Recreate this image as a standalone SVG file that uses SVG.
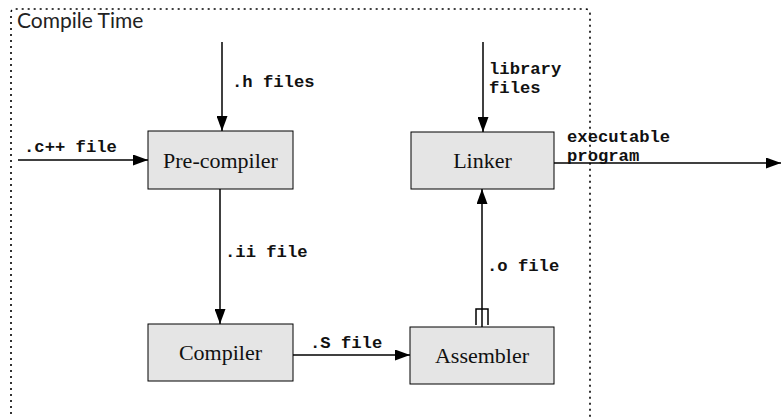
<svg xmlns="http://www.w3.org/2000/svg" width="783" height="418" viewBox="0 0 783 418">
  <defs>
    <marker id="arrow" viewBox="0 0 15 11" refX="15" refY="5.5" markerWidth="15" markerHeight="11" markerUnits="userSpaceOnUse" orient="auto">
      <path d="M0,0 L15,5.5 L0,11 Z" fill="#000"/>
    </marker>
  </defs>
  <style>
    .frame { fill: none; stroke: #000; stroke-width: 1.6; stroke-dasharray: 2 4; }
    .box rect { fill: #e5e5e5; stroke: #000; stroke-width: 1; }
    .box text { font-family: "Liberation Serif", serif; font-size: 22px; fill: #111; text-anchor: middle; }
    .edge { stroke: #000; stroke-width: 1.5; fill: none; }
    .label { font-family: "Liberation Mono", monospace; font-weight: bold; font-size: 17.2px; fill: #111; }
    .title { font-family: Lato, "Open Sans", sans-serif; font-size: 21px; fill: #222; }
  </style>
  <rect width="783" height="418" fill="#fff"/>

  <!-- compile-time boundary -->
  <g id="compile-time">
    <path class="frame" d="M11,420 L11,13 Q11,9 15,9 L585,9 Q590,9 590,14 L590,420"/>
    <text class="title" x="17" y="28">Compile Time</text>
  </g>

  <!-- connectors -->
  <g id="connectors">
    <line class="edge" x1="222" y1="42" x2="222" y2="131" marker-end="url(#arrow)"/>
    <line class="edge" x1="18" y1="160" x2="148" y2="160" marker-end="url(#arrow)"/>
    <line class="edge" x1="220" y1="189" x2="220" y2="324" marker-end="url(#arrow)"/>
    <line class="edge" x1="483" y1="42" x2="483" y2="132" marker-end="url(#arrow)"/>
    <line class="edge" x1="554" y1="163" x2="781" y2="163" marker-end="url(#arrow)"/>
    <line class="edge" x1="293" y1="355" x2="410" y2="355" marker-end="url(#arrow)"/>
    <line class="edge" x1="482" y1="327" x2="482" y2="189" marker-end="url(#arrow)"/>
    <path class="edge" d="M476,325 L476,309 L488,309 L488,325" stroke-width="1.2"/>
    <text class="label" x="232" y="87">.h files</text>
    <text class="label" x="24" y="152">.c++ file</text>
    <text class="label" x="225" y="257">.ii file</text>
    <text class="label" x="489" y="74">library</text>
    <text class="label" x="489" y="93">files</text>
    <text class="label" x="567" y="142">executable</text>
    <text class="label" x="567" y="161">program</text>
    <text class="label" x="487" y="271">.o file</text>
    <text class="label" x="310" y="348">.S file</text>
  </g>

  <g id="precompiler" class="box">
    <rect x="148" y="131" width="145" height="58"/>
    <text x="220.5" y="168">Pre-compiler</text>
  </g>
  <g id="linker" class="box">
    <rect x="411" y="132" width="143" height="57"/>
    <text x="482.5" y="168">Linker</text>
  </g>
  <g id="compiler" class="box">
    <rect x="148" y="324" width="145" height="57"/>
    <text x="220.5" y="360">Compiler</text>
  </g>
  <g id="assembler" class="box">
    <rect x="410" y="327" width="144" height="57"/>
    <text x="482" y="363">Assembler</text>
  </g>
</svg>
